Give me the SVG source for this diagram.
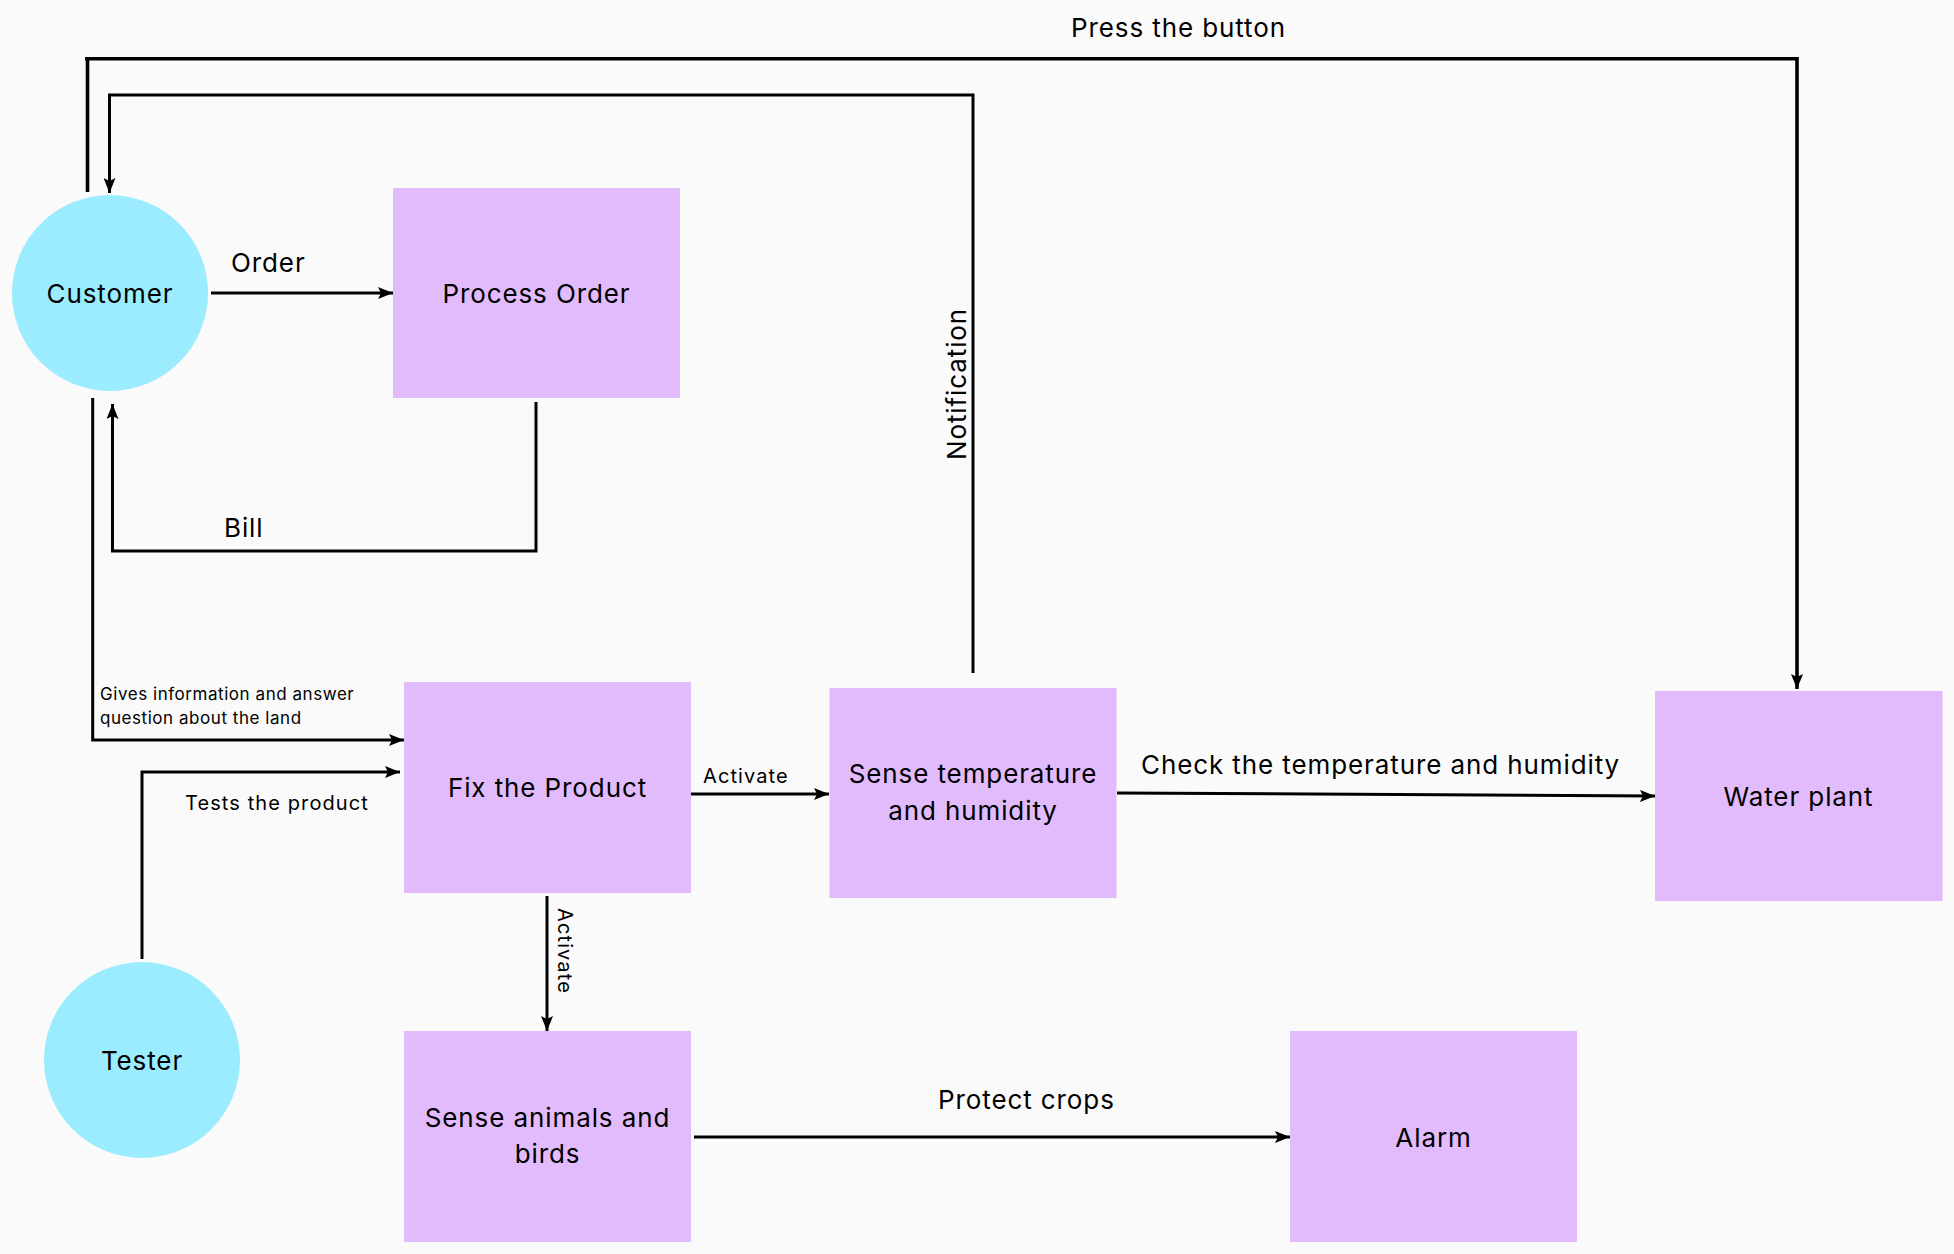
<svg xmlns="http://www.w3.org/2000/svg" width="1954" height="1254" viewBox="0 0 1954 1254">
<style>
.bg{fill:#fafafa}
.proc{fill:#e1bbfc}
.ent{fill:#9aecfe}
.t{font-family:Inter,Lato,"Noto Sans",sans-serif;fill:#000}
.n{font-size:26px;letter-spacing:0.9px;text-anchor:middle}
.l{font-size:26px;letter-spacing:0.9px}
.s{font-size:20px;letter-spacing:1.1px}
.xs{font-size:17px;letter-spacing:0.55px}
.c{fill:none;stroke:#000;stroke-width:3}
</style>
<defs>
<marker id="ah" viewBox="0 0 15 12" refX="15" refY="6" markerWidth="15" markerHeight="12" markerUnits="userSpaceOnUse" orient="auto">
<path d="M0,0 L15,6 L0,12 L3,6 Z" fill="#000"/>
</marker>
</defs>
<rect class="bg" x="0" y="0" width="1954" height="1254"/>
<g id="connectors">
<path class="c" d="M87.5,192 V58.7 M85,58.7 H1797 V689" style="stroke-width:3.6" marker-end="url(#ah)"/>
<path class="c" d="M973,673 V95 H109.5 V193" marker-end="url(#ah)"/>
<path class="c" d="M211,293 H393" marker-end="url(#ah)"/>
<path class="c" d="M536,402 V551 H112.5 V404" marker-end="url(#ah)"/>
<path class="c" d="M92.7,398 V740 H404" marker-end="url(#ah)"/>
<path class="c" d="M142,959 V772 H400" marker-end="url(#ah)"/>
<path class="c" d="M691,794 H829" marker-end="url(#ah)"/>
<path class="c" d="M547,896 V1031" marker-end="url(#ah)"/>
<path class="c" d="M1117,793 L1655,796" marker-end="url(#ah)"/>
<path class="c" d="M694,1137 H1290" marker-end="url(#ah)"/>
<text class="t l" x="1071" y="37">Press the button</text>
<text class="t l" x="0" y="0" text-anchor="middle" transform="translate(966,384) rotate(-90)">Notification</text>
<text class="t l" x="231" y="272">Order</text>
<text class="t l" x="224" y="537">Bill</text>
<text class="t xs" x="100" y="700">Gives information and answer</text>
<text class="t xs" x="100" y="724">question about the land</text>
<text class="t s" x="185" y="810">Tests the product</text>
<text class="t s" x="703" y="783">Activate</text>
<text class="t s" x="0" y="0" text-anchor="middle" transform="translate(558,951) rotate(90)">Activate</text>
<text class="t l" x="1141" y="774">Check the temperature and humidity</text>
<text class="t l" x="938" y="1109">Protect crops</text>
</g>
<g id="customer">
<circle class="ent" cx="110" cy="293" r="98"/>
<text class="t n" x="110" y="303">Customer</text>
</g>
<g id="tester">
<circle class="ent" cx="142" cy="1060" r="98"/>
<text class="t n" x="142" y="1070">Tester</text>
</g>
<g id="process-order">
<rect class="proc" x="393" y="188" width="287" height="210"/>
<text class="t n" x="536.5" y="303">Process Order</text>
</g>
<g id="fix-product">
<rect class="proc" x="404" y="682" width="287" height="211"/>
<text class="t n" x="547.5" y="797">Fix the Product</text>
</g>
<g id="sense-temp">
<rect class="proc" x="829.5" y="688" width="287" height="210"/>
<text class="t n" x="973" y="783">Sense temperature</text>
<text class="t n" x="973" y="820">and humidity</text>
</g>
<g id="water-plant">
<rect class="proc" x="1655" y="691" width="287.5" height="210"/>
<text class="t n" x="1798.5" y="806">Water plant</text>
</g>
<g id="sense-animals">
<rect class="proc" x="404" y="1031" width="287" height="211"/>
<text class="t n" x="547.5" y="1127">Sense animals and</text>
<text class="t n" x="547.5" y="1163">birds</text>
</g>
<g id="alarm">
<rect class="proc" x="1290" y="1031" width="287" height="211"/>
<text class="t n" x="1433.5" y="1147">Alarm</text>
</g>
</svg>
